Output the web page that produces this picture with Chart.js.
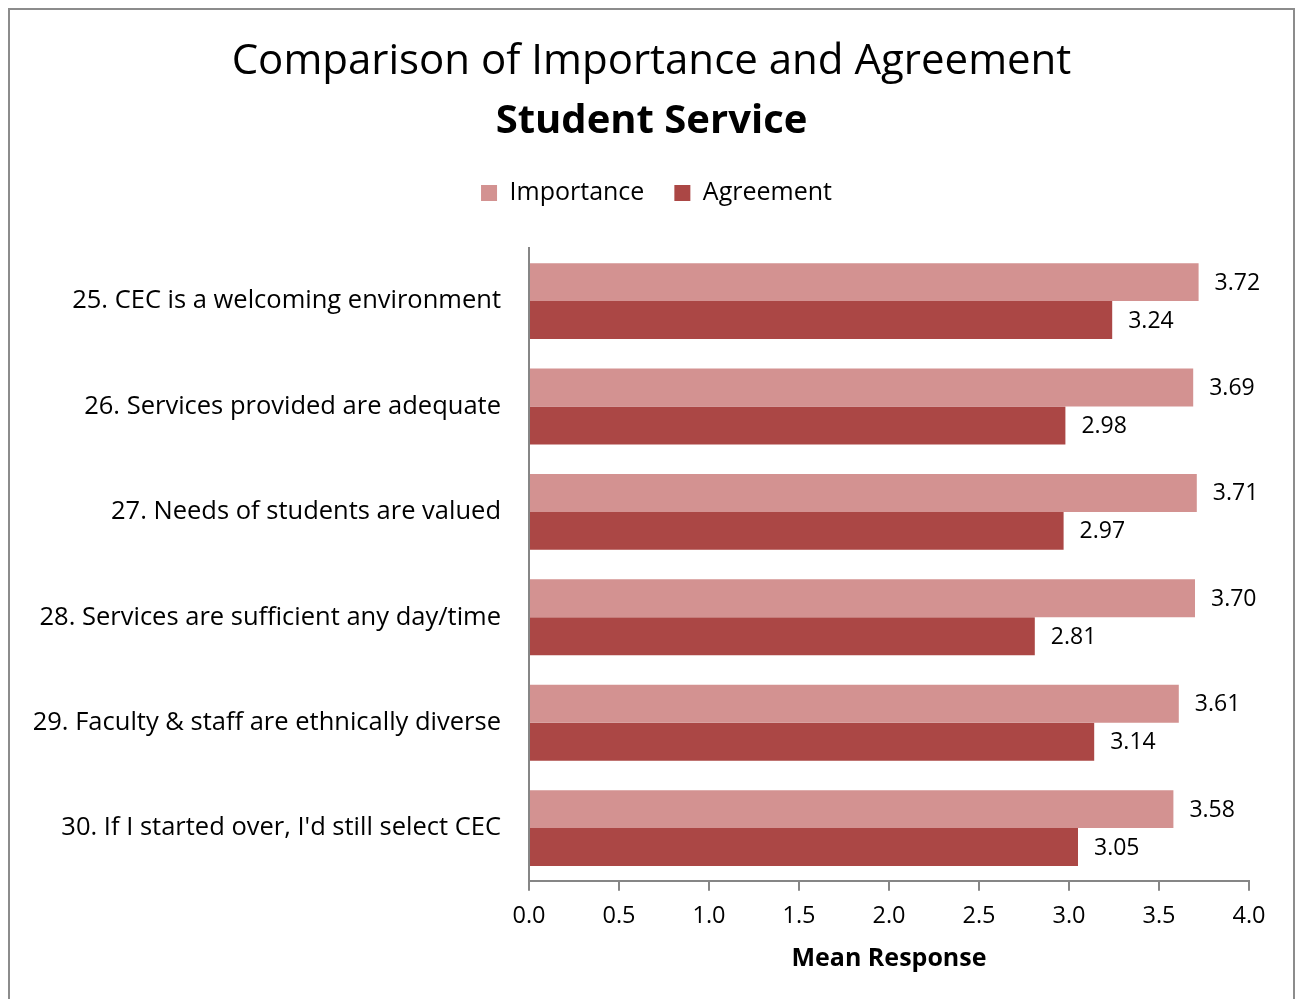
<!DOCTYPE html>
<html>
<head>
<meta charset="utf-8">
<script src="https://cdn.jsdelivr.net/npm/chart.js@4"></script>
<style>
    body { margin: 0; background: #fff; }
    #frame {
        position: absolute; left: 8px; top: 8px;
        width: 1287px; height: 1000px;
        border: 2px solid #8c8c8c; box-sizing: border-box;
    }
    #wrap { position: absolute; left: 0; top: 0; width: 1295px; height: 999px; }
</style>
</head>
<body>
<div id="frame"></div>
<div id="wrap"><canvas id="myChart"></canvas></div>
<script>
const questions = [
    '25. CEC is a welcoming environment',
    '26. Services provided are adequate',
    '27. Needs of students are valued',
    '28. Services are sufficient any day/time',
    '29. Faculty & staff are ethnically diverse',
    "30. If I started over, I'd still select CEC"
];
const importance = [3.72, 3.69, 3.71, 3.70, 3.61, 3.58];
const agreement = [3.24, 2.98, 2.97, 2.81, 3.14, 3.05];

const FONT = '"Open Sans", sans-serif';

// writes the mean next to the end of each bar
const valueLabels = {
    id: 'valueLabels',
    afterDatasetsDraw(chart) {
        const ctx = chart.ctx;
        ctx.save();
        ctx.font = '23px ' + FONT;
        ctx.fillStyle = '#000';
        ctx.textAlign = 'left';
        ctx.textBaseline = 'middle';
        chart.data.datasets.forEach((ds, i) => {
            const meta = chart.getDatasetMeta(i);
            meta.data.forEach((bar, j) => {
                ctx.fillText(ds.data[j].toFixed(2), bar.x + 16, bar.y + 1);
            });
        });
        ctx.restore();
    }
};

// extra room under the legend, and title/legend centred on the whole frame
const headerLayout = {
    id: 'headerLayout',
    beforeInit(chart) {
        const fit = chart.legend.fit;
        chart.legend.fit = function () {
            fit.call(this);
            this.height += 33;
        };
    },
    afterLayout(chart) {
        chart.boxes.forEach(box => {
            if (!box.axis && box.options && box.options.position === 'top') {
                const shift = box === chart.legend ? 32 : 27;
                box.left += shift;
                box.right += shift;
            }
        });
    }
};

function renderChart() {
    const ctx = document.getElementById('myChart');
    new Chart(ctx, {
        type: 'bar',
        data: {
            labels: questions,
            datasets: [{
                label: 'Importance',
                data: importance,
                backgroundColor: '#d39291',
                categoryPercentage: 0.72,
                barPercentage: 1.0
            }, {
                label: 'Agreement',
                data: agreement,
                backgroundColor: '#ab4745',
                categoryPercentage: 0.72,
                barPercentage: 1.0
            }]
        },
        options: {
            indexAxis: 'y',
            responsive: true,
            maintainAspectRatio: false,
            animation: false,
            layout: { padding: { left: 0, right: 46, top: 0, bottom: 21 } },
            plugins: {
                title: {
                    display: true,
                    text: 'Comparison of Importance and Agreement',
                    font: { family: FONT, size: 42, weight: 'normal' },
                    color: '#000',
                    padding: { top: 37, bottom: 10 }
                },
                subtitle: {
                    display: true,
                    text: 'Student Service',
                    font: { family: FONT, size: 40, weight: 'bold' },
                    color: '#000',
                    padding: { top: 0, bottom: 5 }
                },
                legend: {
                    labels: {
                        font: { family: FONT, size: 25 },
                        color: '#000',
                        boxWidth: 16,
                        boxHeight: 16,
                        padding: 30
                    }
                },
                tooltip: { enabled: false }
            },
            scales: {
                x: {
                    min: 0,
                    max: 4,
                    ticks: {
                        stepSize: 0.5,
                        color: '#000',
                        font: { family: FONT, size: 23.5 },
                        padding: 11,
                        callback: v => v.toFixed(1)
                    },
                    grid: { drawOnChartArea: false, tickLength: 10, color: '#868686', lineWidth: 2 },
                    border: { color: '#868686', width: 2 },
                    title: {
                        display: true,
                        text: 'Mean Response',
                        color: '#000',
                        font: { family: FONT, size: 25, weight: 'bold' },
                        padding: { top: 3 }
                    }
                },
                y: {
                    ticks: {
                        color: '#000',
                        font: { family: FONT, size: 25.5 },
                        padding: 28
                    },
                    grid: { drawOnChartArea: false, drawTicks: false },
                    border: { color: '#868686', width: 2 },
                    afterFit(scale) { scale.width = 529; }
                }
            }
        },
        plugins: [valueLabels, headerLayout]
    });
}

renderChart();
</script>
</body>
</html>
